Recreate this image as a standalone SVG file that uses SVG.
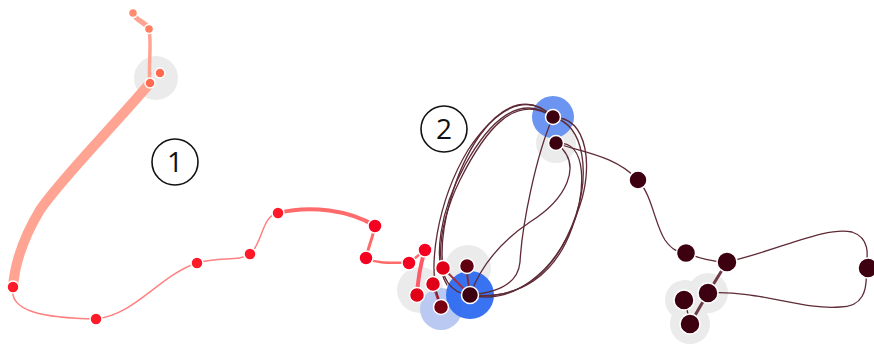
<svg xmlns="http://www.w3.org/2000/svg" width="874" height="347" viewBox="0 0 874 347">
<style>
.halo{fill:#ebebeb}
.nd{stroke:#fff;stroke-width:1.5}
.e{fill:none;stroke-linecap:round}
.ed{fill:none;stroke:#5e2a36;stroke-width:1.3;stroke-linecap:round}
.lbl{font-family:"Open Sans","DejaVu Sans",sans-serif;font-size:28px;fill:#111;text-anchor:middle}
.ring{fill:none;stroke:#111;stroke-width:1.6}
</style>
<rect width="874" height="347" fill="#fff"/>
<g id="halos">
<circle class="halo" cx="156" cy="78" r="22"/>
<circle class="halo" cx="420" cy="290" r="23"/>
<circle class="halo" cx="468" cy="268" r="23"/>
<circle fill="#b9c9f1" cx="441" cy="309" r="21"/>
<circle class="halo" cx="556" cy="143" r="20"/>
<circle class="halo" cx="685" cy="300" r="20"/>
<circle class="halo" cx="708" cy="293" r="20"/>
<circle class="halo" cx="690" cy="324" r="20"/>
<circle fill="#2f6cf0" opacity="0.95" cx="470" cy="295" r="24"/>
<circle fill="#6b95f0" cx="553" cy="117" r="21"/>
</g>
<g id="connectors">
<path class="e" stroke="#ffa392" stroke-width="5" d="M133,13 C136,22 144,20 149,29"/>
<path class="e" stroke="#ffa392" stroke-width="3.5" d="M149,29 C152,45 148,65 150,83"/>
<path class="e" stroke="#ffa392" stroke-width="10" d="M150,83 C110,130 60,180 40,210 C25,235 15,260 13,287"/>
<path class="e" stroke="#ff8080" stroke-width="1.5" d="M13,287 C8,312 45,318 96,319"/>
<path class="e" stroke="#ff8080" stroke-width="1.5" d="M96,319 C135,315 160,275 197,263"/>
<path class="e" stroke="#ff8080" stroke-width="1.5" d="M197,263 C220,256 238,262 250,254"/>
<path class="e" stroke="#ff8080" stroke-width="1.5" d="M250,254 C262,245 262,215 278,213"/>
<path class="e" stroke="#ff6b6b" stroke-width="4" d="M278,213 C310,205 350,210 375,226"/>
<path class="e" stroke="#ff6b6b" stroke-width="3" d="M375,226 C372,240 368,248 366,258"/>
<path class="e" stroke="#ff6b6b" stroke-width="2.5" d="M366,258 C380,265 395,262 409,263"/>
<path class="e" stroke="#ff6b6b" stroke-width="2.5" d="M409,263 L425,250"/>
<path class="e" stroke="#ff5a6a" stroke-width="4" d="M425,250 C420,265 418,280 417,295"/>
<path class="e" stroke="#c03050" stroke-width="3" d="M433,284 L441,307"/>
<path class="e" stroke="#a03040" stroke-width="2" d="M443,268 L470,295"/>
<path class="e" stroke="#803040" stroke-width="2" d="M466,266 L470,295"/>
<path class="ed" d="M470,295 C430,292 435,230 460,180 C485,130 515,92 553,117"/>
<path class="ed" d="M443,268 C438,230 455,170 480,135 C505,100 532,96 553,117"/>
<path class="ed" d="M441,307 C425,270 438,200 468,150 C495,110 525,90 553,117"/>
<path class="ed" d="M447,285 C432,260 440,210 465,165 C490,120 520,93 553,117"/>
<path class="ed" d="M553,117 C590,118 592,170 580,205 C562,262 530,302 470,295"/>
<path class="ed" d="M553,117 C586,126 589,175 576,215 C556,275 510,305 470,295"/>
<path class="ed" d="M556,143 C588,140 586,190 572,228 C555,275 520,300 470,295"/>
<path class="ed" d="M553,117 C536,155 522,225 520,262 C518,285 495,293 470,295"/>
<path class="ed" d="M556,143 C585,165 565,200 530,222 C500,242 480,268 470,295"/>
<path class="ed" d="M556,143 C580,152 615,155 638,180"/>
<path class="ed" d="M638,180 C652,195 655,225 665,240 C672,250 678,252 685,253"/>
<path class="ed" d="M685,253 C700,258 712,262 727,262"/>
<path class="ed" d="M727,262 C780,250 825,226 852,232 C870,238 868,255 866,268"/>
<path class="ed" d="M866,268 C868,292 862,307 840,307 C800,310 760,290 708,293"/>
<path class="e" stroke="#6e3a46" stroke-width="3" d="M727,262 L708,293"/>
<path class="e" stroke="#6e3a46" stroke-width="3" d="M708,293 L690,324"/>
<path class="ed" d="M685,300 L690,324"/>
</g>
<g id="nodes">
<circle id="n1" class="nd" fill="#ff8c70" cx="133" cy="13" r="4.5"/>
<circle id="n2" class="nd" fill="#ff8060" cx="149" cy="29" r="4.5"/>
<circle id="n3" class="nd" fill="#ff6a50" cx="160" cy="73" r="5"/>
<circle id="n4" class="nd" fill="#ff6a50" cx="150" cy="83" r="5"/>
<circle id="n5" class="nd" fill="#ff1a2a" cx="13" cy="287" r="6"/>
<circle id="n6" class="nd" fill="#ff1a2a" cx="96" cy="319" r="6"/>
<circle id="n7" class="nd" fill="#ff1a2a" cx="197" cy="263" r="6"/>
<circle id="n8" class="nd" fill="#ff1a2a" cx="250" cy="254" r="6"/>
<circle id="n9" class="nd" fill="#ff1a2a" cx="278" cy="213" r="6"/>
<circle id="n10" class="nd" fill="#f50020" cx="375" cy="226" r="7"/>
<circle id="n11" class="nd" fill="#f50020" cx="366" cy="258" r="7"/>
<circle id="n12" class="nd" fill="#f50020" cx="409" cy="263" r="7"/>
<circle id="n13" class="nd" fill="#f50020" cx="425" cy="250" r="7"/>
<circle id="n14" class="nd" fill="#e00018" cx="443" cy="268" r="7.5"/>
<circle id="n15" class="nd" fill="#e00018" cx="433" cy="284" r="7.5"/>
<circle id="n16" class="nd" fill="#e00018" cx="417" cy="295" r="7.5"/>
<circle id="n17" class="nd" fill="#780010" cx="441" cy="307" r="7.5"/>
<circle id="n18" class="nd" fill="#600010" cx="467" cy="266" r="7.5"/>
<circle id="n19" class="nd" fill="#3d0010" cx="470" cy="295" r="8.5"/>
<circle id="n20" class="nd" fill="#3d0010" cx="553" cy="117" r="7.5"/>
<circle id="n21" class="nd" fill="#3d0010" cx="556" cy="143" r="7.5"/>
<circle id="n22" class="nd" fill="#3d0010" cx="638" cy="180" r="9"/>
<circle id="n23" class="nd" fill="#3d0010" cx="686" cy="253" r="9.5"/>
<circle id="n24" class="nd" fill="#3d0010" cx="727" cy="262" r="10"/>
<circle id="n25" class="nd" fill="#3d0010" cx="868" cy="268" r="10"/>
<circle id="n26" class="nd" fill="#3d0010" cx="684" cy="300" r="10"/>
<circle id="n27" class="nd" fill="#3d0010" cx="708" cy="293" r="10"/>
<circle id="n28" class="nd" fill="#3d0010" cx="690" cy="324" r="10"/>
</g>
<g id="labels">
<circle class="ring" cx="175" cy="162" r="23"/>
<text class="lbl" x="175" y="172">1</text>
<circle class="ring" cx="444" cy="129" r="23"/>
<text class="lbl" x="444" y="139">2</text>
</g>
</svg>
